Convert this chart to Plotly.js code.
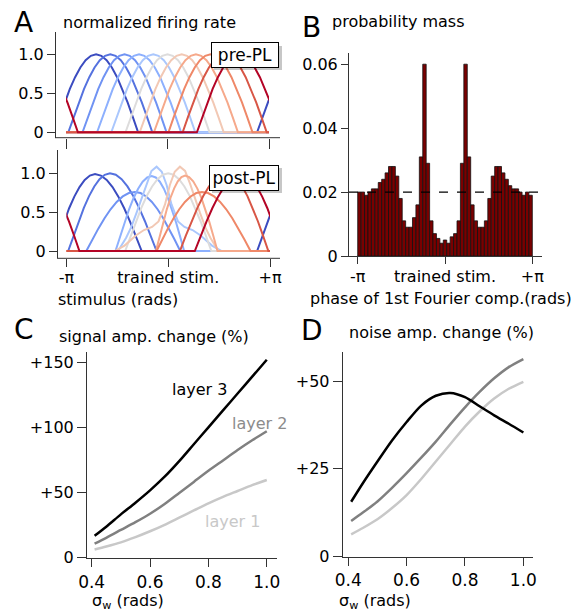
<!DOCTYPE html>
<html><head><meta charset="utf-8">
<script src="https://cdn.plot.ly/plotly-3.0.1.min.js"></script>
<style>html,body{margin:0;padding:0;background:#fff}#chart{width:578px;height:614px}</style>
</head><body><div id="chart"></div>
<script>
// ---------- DATA ----------
// Panel A: tuning-curve half profile (fraction of half-width -> normalized rate)
const profileU = [0, 0.125, 0.25, 0.375, 0.5, 0.625, 0.75, 0.875, 1];
const profileV = [1, 0.981, 0.924, 0.831, 0.707, 0.556, 0.383, 0.195, 0];
const curveColors = ['#3b4cc0','#5572df','#7093f3','#8db0fe','#aac7fd','#dddcdc','#f2c8b4','#f6a98b','#ef8868','#d85646','#b40426'];
// pre-PL: preferred stimulus (rad), amplitude, left/right half-width (rad)
const prePeaks = [-2.21, -1.77, -1.33, -0.88, -0.44, 0, 0.44, 0.88, 1.33, 1.77, 2.21];
const preAmps  = [1, 1, 1, 1, 1, 1, 1, 1, 1, 1, 1];
const preHwL   = [1.3, 1.3, 1.3, 1.3, 1.3, 1.3, 1.3, 1.3, 1.3, 1.3, 1.3];
const preHwR   = [1.3, 1.3, 1.3, 1.3, 1.3, 1.3, 1.3, 1.3, 1.3, 1.3, 1.3];
// post-PL
const postPeaks = [-2.26, -1.80, -1.03, -0.51, null, 0, null, 0.52, 1.04, 1.80, 2.26];
const postAmps  = [0.99, 1.0, 0.76, 0.965, null, 1.0, null, 0.97, 0.76, 1.0, 0.99];
const postHwL   = [1.28, 1.29, 1.5, 1.12, null, 1.33, null, 0.9, 1.4, 1.44, 1.44];
const postHwR   = [1.44, 1.44, 1.4, 1.0, null, 1.33, null, 1.0, 1.5, 1.29, 1.28];
// post-PL curves with a shoulder (absolute stimulus in rad)
const lightSalmonX = [-1.65, -1.35, -1.0, -0.75, -0.5, -0.3, -0.1, 0.05, 0.2, 0.36, 0.52, 0.67, 0.82, 0.98, 1.15, 1.3, 1.55];
const lightSalmonY = [0, 0.07, 0.2, 0.27, 0.31, 0.38, 0.6, 0.85, 1.02, 1.085, 1.03, 0.87, 0.68, 0.49, 0.3, 0.17, 0];
const lightBlueX   = [-1.55, -1.3, -1.15, -0.98, -0.82, -0.67, -0.52, -0.36, -0.2, -0.05, 0.1, 0.3, 0.5, 0.75, 1.0, 1.35, 1.65];
const lightBlueY   = [0, 0.17, 0.3, 0.49, 0.68, 0.87, 1.03, 1.085, 1.02, 0.85, 0.6, 0.38, 0.31, 0.27, 0.2, 0.07, 0];

// Panel B: probability mass histogram (51 bins from -pi to +pi)
const probMass = [0.020, 0.020, 0.019, 0.020, 0.021, 0.021, 0.023, 0.024, 0.026, 0.028, 0.028, 0.025, 0.018,
  0.011, 0.009, 0.009, 0.012, 0.016, 0.031, 0.060, 0.029, 0.011, 0.007, 0.0055, 0.004,
  0.005,
  0.004, 0.006, 0.007, 0.011, 0.029, 0.060, 0.031, 0.016, 0.011, 0.009, 0.009, 0.011,
  0.018, 0.025, 0.028, 0.028, 0.026, 0.024, 0.022, 0.021, 0.021, 0.020, 0.019, 0.020, 0.019];
const uniformLevel = 0.02;
const stimTickText = ['-π', 'trained stim.', '+π'];

// Panels C, D
const sigmaW = [0.41, 0.45, 0.5, 0.55, 0.6, 0.65, 0.7, 0.75, 0.8, 0.85, 0.9, 0.95, 1.0];
const signalL3 = [16.5, 23.5, 33, 42, 51.5, 62, 74, 87, 100, 113, 126, 139, 152];
const signalL2 = [10.5, 15, 21, 27, 33.5, 41, 49.5, 58, 66.5, 74.5, 82.5, 90, 97];
const signalL1 = [6, 8.3, 11.5, 15.5, 20, 25, 30.5, 36, 41.5, 46.5, 51, 55.5, 59.5];
const noiseL3 = [15.5, 20.8, 27, 33, 38.3, 43, 45.8, 46.6, 45.4, 42.8, 40.2, 37.8, 35.3];
const noiseL2 = [10, 12.4, 15.6, 19.5, 23.7, 28.1, 32.7, 37.7, 42.5, 46.9, 50.8, 54, 56.3];
const noiseL1 = [6.2, 8, 10.5, 13.7, 17.4, 22, 27, 32, 37, 41.3, 45, 47.8, 49.8];

// ---------- BUILD ----------
const W = 578, H = 614, PI = Math.PI, TWO_PI = 2 * Math.PI;
const px = x => x / W, py = y => 1 - y / H;
const FONT = 'DejaVu Sans, Liberation Sans, Arial, sans-serif';
const AX = '#333';

function bump(peak, amp, hwL, hwR) {
  const xs = [], ys = [];
  for (const s of [-TWO_PI, 0, TWO_PI]) {
    for (let i = profileU.length - 1; i >= 0; i--) { xs.push(peak + s - profileU[i] * hwL); ys.push(amp * profileV[i]); }
    for (let i = 1; i < profileU.length; i++) { xs.push(peak + s + profileU[i] * hwR); ys.push(amp * profileV[i]); }
  }
  return {xs, ys};
}
function explicitCurve(X, Y) {
  return {xs: [-TWO_PI].concat(X, [TWO_PI]), ys: [0].concat(Y, [0])};
}

const traces = [];
for (let k = 0; k < prePeaks.length; k++) {
  const c = bump(prePeaks[k], preAmps[k], preHwL[k], preHwR[k]);
  traces.push({x: c.xs, y: c.ys, type: 'scatter', mode: 'lines', xaxis: 'x', yaxis: 'y',
    line: {color: curveColors[k], width: 2}, hoverinfo: 'skip'});
}
for (let k = 0; k < postPeaks.length; k++) {
  let c;
  if (k === 4) c = explicitCurve(lightBlueX, lightBlueY);
  else if (k === 6) c = explicitCurve(lightSalmonX, lightSalmonY);
  else c = bump(postPeaks[k], postAmps[k], postHwL[k], postHwR[k]);
  traces.push({x: c.xs, y: c.ys, type: 'scatter', mode: 'lines', xaxis: 'x2', yaxis: 'y2',
    line: {color: curveColors[k], width: 2}, hoverinfo: 'skip'});
}
// Panel B bars
const nb = probMass.length, bw = TWO_PI / nb;
const binCenters = probMass.map((_, i) => -PI + (i + 0.5) * bw);
traces.push({x: binCenters, y: probMass, type: 'bar', xaxis: 'x3', yaxis: 'y3', width: bw,
  marker: {color: '#7a0000', line: {color: '#111', width: 0.8}}, hoverinfo: 'skip'});
// Panel C
[[signalL1, '#c8c8c8'], [signalL2, '#808080'], [signalL3, '#000']].forEach(([v, col]) =>
  traces.push({x: sigmaW, y: v, type: 'scatter', mode: 'lines', xaxis: 'x4', yaxis: 'y4',
    line: {color: col, width: 2.5, shape: 'spline', smoothing: 0.8}, hoverinfo: 'skip'}));
// Panel D
[[noiseL1, '#c8c8c8'], [noiseL2, '#808080'], [noiseL3, '#000']].forEach(([v, col]) =>
  traces.push({x: sigmaW, y: v, type: 'scatter', mode: 'lines', xaxis: 'x5', yaxis: 'y5',
    line: {color: col, width: 2.5, shape: 'spline', smoothing: 0.8}, hoverinfo: 'skip'}));

const baseAx = {showgrid: false, zeroline: false, linecolor: AX, tickcolor: AX, linewidth: 1, tickwidth: 1,
  ticks: 'outside', fixedrange: true};
const stimVals = [-PI, 0, PI];

const layout = {
  width: W, height: H, margin: {l: 0, r: 0, t: 0, b: 0}, showlegend: false,
  paper_bgcolor: '#fff', plot_bgcolor: 'rgba(0,0,0,0)',
  font: {family: FONT, size: 16, color: '#000'}, bargap: 0,
  xaxis: Object.assign({}, baseAx, {domain: [px(66), px(269)], range: [-PI, PI], anchor: 'y', showline: false,
    tickvals: stimVals, showticklabels: false, ticklen: 10}),
  yaxis: Object.assign({}, baseAx, {domain: [py(137.7), py(31.7)], range: [-0.069, 1.29], anchor: 'free', position: px(55),
    showline: true, ticklen: 8, tickvals: [0, 0.5, 1], ticktext: ['0', '0.5', '1.0'], tickfont: {size: 16}}),
  xaxis2: Object.assign({}, baseAx, {domain: [px(66.5), px(270)], range: [-PI, PI], anchor: 'y2', showline: false,
    tickvals: stimVals, ticktext: stimTickText, ticklen: 8, ticklabelstandoff: -4, tickfont: {size: 16}}),
  yaxis2: Object.assign({}, baseAx, {domain: [py(258.3), py(150)], range: [-0.094, 1.30], anchor: 'free', position: px(57),
    showline: true, ticklen: 8, tickvals: [0, 0.5, 1], ticktext: ['0', '0.5', '1.0'], tickfont: {size: 16}}),
  xaxis3: Object.assign({}, baseAx, {domain: [px(349), px(542)], range: [-3.455, 3.49], anchor: 'y3', showline: true,
    tickvals: stimVals, ticktext: stimTickText, ticklen: 7, ticklabelstandoff: -1, tickfont: {size: 16}}),
  yaxis3: Object.assign({}, baseAx, {domain: [py(256), py(53)], range: [0, 0.0635], anchor: 'x3', showline: true,
    ticklen: 7, tickvals: [0, 0.02, 0.04, 0.06], ticktext: ['0', '0.02', '0.04', '0.06'], tickfont: {size: 16}}),
  xaxis4: Object.assign({}, baseAx, {domain: [px(87), px(277)], range: [0.384, 1.035], anchor: 'y4', showline: true,
    ticklen: 8, tickvals: [0.4, 0.6, 0.8, 1.0], ticktext: ['0.4', '0.6', '0.8', '1.0'], tickfont: {size: 17}}),
  yaxis4: Object.assign({}, baseAx, {domain: [py(558.3), py(351.7)], range: [-0.8, 158.2], anchor: 'x4', showline: true,
    ticklen: 9, tickvals: [0, 50, 100, 150], ticktext: ['0', '+50', '+100', '+150'], tickfont: {size: 16}}),
  xaxis5: Object.assign({}, baseAx, {domain: [px(342.7), px(532.7)], range: [0.381, 1.032], anchor: 'y5', showline: true,
    ticklen: 8, tickvals: [0.4, 0.6, 0.8, 1.0], ticktext: ['0.4', '0.6', '0.8', '1.0'], tickfont: {size: 17}}),
  yaxis5: Object.assign({}, baseAx, {domain: [py(556.7), py(351.7)], range: [-0.2, 58.4], anchor: 'x5', showline: true,
    ticklen: 9, tickvals: [0, 25, 50], ticktext: ['0', '+25', '+50'], tickfont: {size: 16}}),
  shapes: [
    {type: 'line', xref: 'paper', yref: 'paper', x0: px(55), x1: px(280), y0: py(137.7), y1: py(137.7), line: {color: AX, width: 1}},
    {type: 'line', xref: 'paper', yref: 'paper', x0: px(57), x1: px(280), y0: py(258.3), y1: py(258.3), line: {color: AX, width: 1}},
    {type: 'line', xref: 'paper', yref: 'y3', x0: px(349), x1: px(542), y0: uniformLevel, y1: uniformLevel, line: {color: '#000', width: 1.3, dash: 'dash'}},
    {type: 'rect', xref: 'paper', yref: 'paper', x0: px(214), x1: px(282), y0: py(70), y1: py(46), fillcolor: 'rgba(0,0,0,0.22)', line: {width: 0}},
    {type: 'rect', xref: 'paper', yref: 'paper', x0: px(212), x1: px(282), y0: py(193), y1: py(168), fillcolor: 'rgba(0,0,0,0.22)', line: {width: 0}}
  ],
  annotations: []
};

function ann(text, x, y, opts) {
  layout.annotations.push(Object.assign({text, x: px(x), y: py(y), xref: 'paper', yref: 'paper', showarrow: false,
    xanchor: 'center', yanchor: 'middle', font: {family: FONT, size: 16, color: '#000'}}, opts || {}));
}
ann('A', 23, 22, {font: {family: FONT, size: 28, color: '#000'}});
ann('normalized firing rate', 61, 22, {xanchor: 'left'});
ann('B', 311.5, 27, {font: {family: FONT, size: 28, color: '#000'}});
ann('probability mass', 330, 21.5, {xanchor: 'left'});
ann('C', 23.5, 329, {font: {family: FONT, size: 28, color: '#000'}});
ann('signal amp. change (%)', 57, 336, {xanchor: 'left'});
ann('D', 312, 330, {font: {family: FONT, size: 28, color: '#000'}});
ann('noise amp. change (%)', 347, 332.5, {xanchor: 'left'});
ann('stimulus (rads)', 56, 299, {xanchor: 'left'});
ann('phase of 1st Fourier comp.(rads)', 441, 298);
ann('σ<sub>w</sub> (rads)', 90, 601, {xanchor: 'left'});
ann('σ<sub>w</sub> (rads)', 336.7, 601, {xanchor: 'left'});
ann('layer 3', 199, 390);
ann('layer 2', 259.5, 423, {font: {family: FONT, size: 16, color: '#8c8c8c'}});
ann('layer 1', 232, 521, {font: {family: FONT, size: 16, color: '#c8c8c8'}});
ann('pre-PL', 245, 55, {bgcolor: '#fff', bordercolor: '#000', borderwidth: 1, borderpad: 1, width: 64, height: 22,
  font: {family: FONT, size: 17, color: '#000'}});
ann('post-PL', 244, 177.5, {bgcolor: '#fff', bordercolor: '#000', borderwidth: 1, borderpad: 1, width: 66, height: 22,
  font: {family: FONT, size: 17, color: '#000'}});

Plotly.newPlot('chart', traces, layout, {staticPlot: true, displayModeBar: false});
</script>
</body></html>
